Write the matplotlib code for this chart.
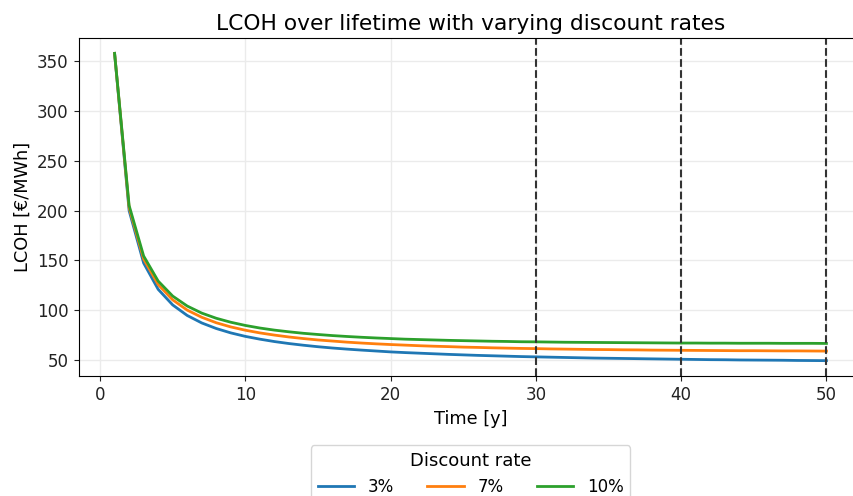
import matplotlib
matplotlib.use("Agg")
import matplotlib.pyplot as plt

years = list(range(1, 51))

lcoh_3 = [358.0, 199.9, 147.2, 120.8, 105.1, 94.5, 87.0, 81.4, 77.0, 73.5,
          70.7, 68.3, 66.3, 64.6, 63.1, 61.8, 60.7, 59.7, 58.8, 57.9,
          57.2, 56.6, 56.0, 55.4, 54.9, 54.4, 54.0, 53.6, 53.2, 52.9,
          52.6, 52.3, 52.0, 51.7, 51.5, 51.3, 51.1, 50.9, 50.7, 50.5,
          50.3, 50.1, 50.0, 49.8, 49.7, 49.6, 49.5, 49.3, 49.2, 49.1]
lcoh_7 = [358.0, 202.9, 151.3, 125.6, 110.2, 99.9, 92.7, 87.2, 83.0, 79.7,
          77.0, 74.8, 72.9, 71.3, 69.9, 68.8, 67.7, 66.8, 66.0, 65.3,
          64.7, 64.1, 63.6, 63.2, 62.7, 62.4, 62.0, 61.7, 61.4, 61.2,
          60.9, 60.7, 60.5, 60.3, 60.2, 60.0, 59.9, 59.7, 59.6, 59.5,
          59.4, 59.3, 59.2, 59.1, 59.1, 59.0, 58.9, 58.9, 58.8, 58.7]
lcoh_10 = [358.0, 205.1, 154.3, 129.1, 114.0, 104.0, 96.9, 91.7, 87.7, 84.5,
           81.9, 79.8, 78.1, 76.6, 75.4, 74.3, 73.4, 72.6, 71.9, 71.3,
           70.7, 70.3, 69.9, 69.5, 69.2, 68.9, 68.6, 68.4, 68.1, 68.0,
           67.8, 67.6, 67.5, 67.4, 67.3, 67.2, 67.1, 67.0, 66.9, 66.8,
           66.8, 66.7, 66.7, 66.6, 66.6, 66.6, 66.5, 66.5, 66.5, 66.4]

series_labels = ["3%", "7%", "10%"]
colors = ["#1f77b4", "#ff7f0e", "#2ca02c"]
vlines = [30, 40, 50]

fig = plt.figure(figsize=(8.54, 4.96), dpi=100)
ax = fig.add_axes([0.0925, 0.2419, 0.9169, 0.6815])

for vals, lab, c in zip([lcoh_3, lcoh_7, lcoh_10], series_labels, colors):
    ax.plot(years, vals, color=c, lw=2, label=lab)

for v in vlines:
    ax.axvline(v, color="#333333", ls="--", lw=1.5)

ax.grid(True, color="#ebebeb", lw=1)
ax.set_axisbelow(True)
ax.set_xticks([0, 10, 20, 30, 40, 50])
ax.set_yticks([50, 100, 150, 200, 250, 300, 350])
ax.tick_params(labelsize=12, colors="#222222", pad=4)
ax.set_xlabel("Time [y]", fontsize=12.8)
ax.set_ylabel("LCOH [€/MWh]", fontsize=12.8)
ax.set_title("LCOH over lifetime with varying discount rates", fontsize=15.7)

leg = ax.legend(title="Discount rate", loc="upper center", bbox_to_anchor=(0.5, -0.18),
                ncol=3, fontsize=12, title_fontsize=13, columnspacing=2.0,
                handlelength=2.2)

fig.savefig("out.png", dpi=100)
